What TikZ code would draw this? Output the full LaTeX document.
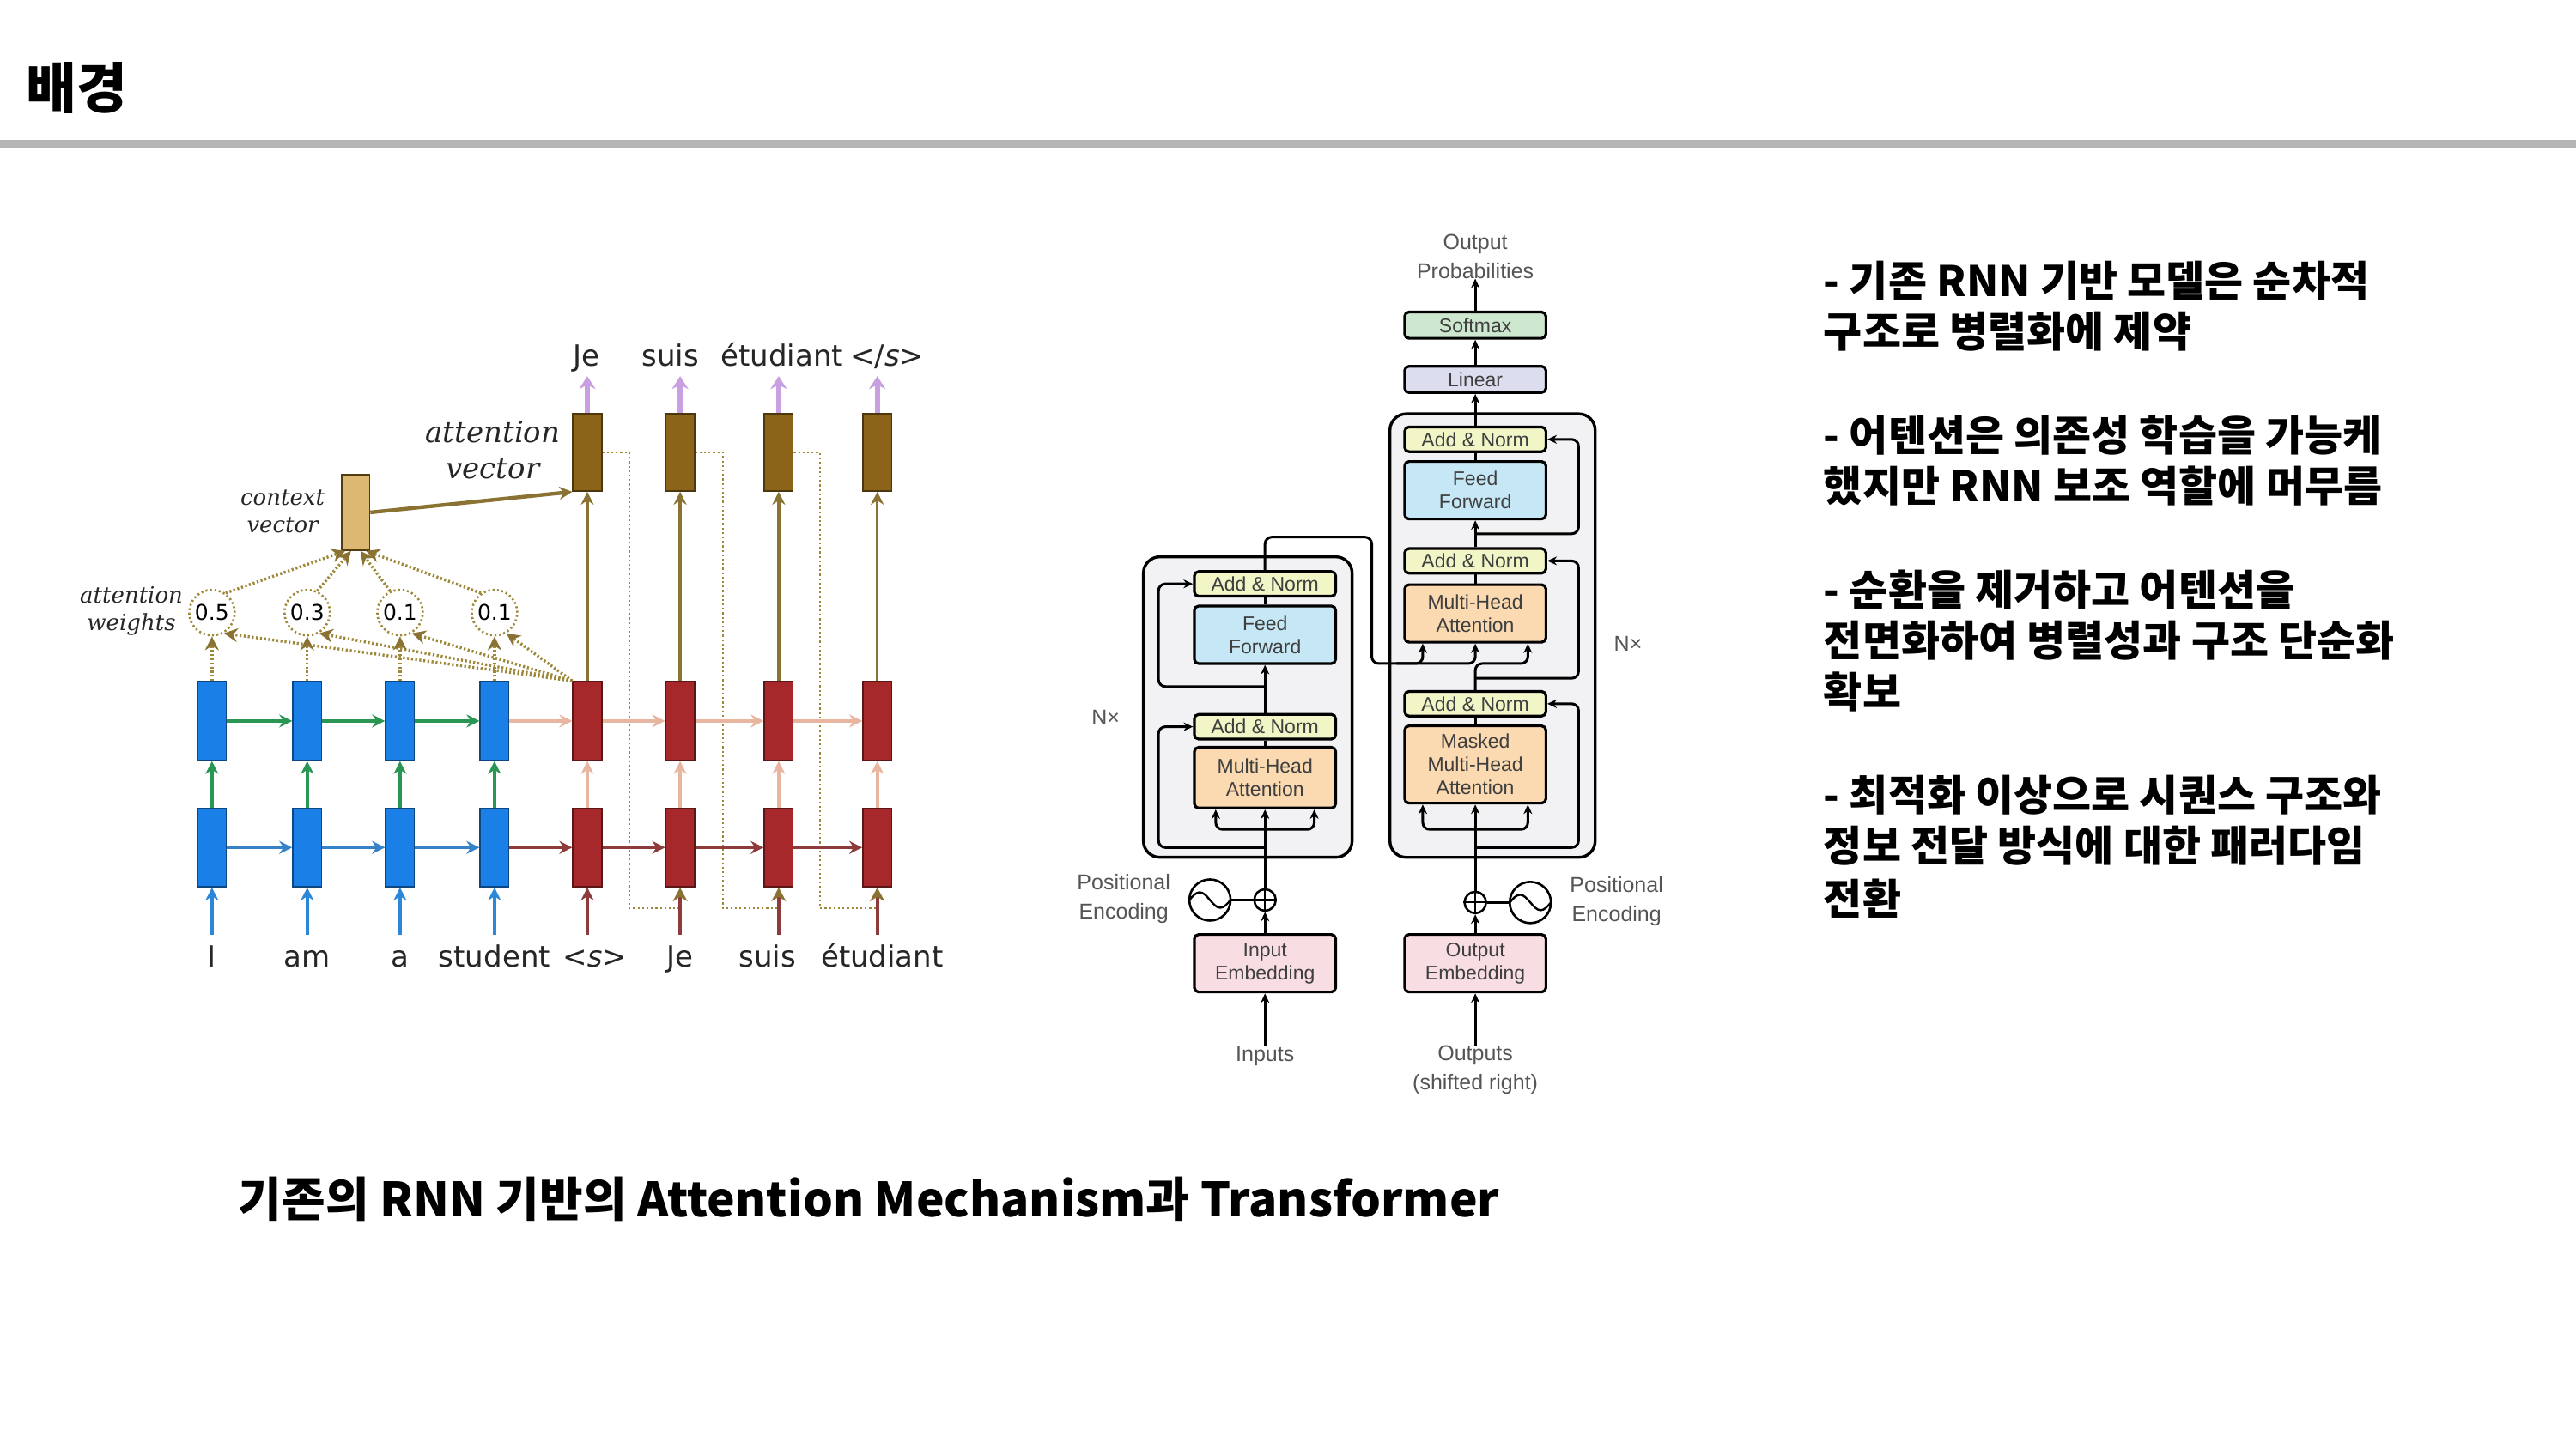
\documentclass[tikz,border=0pt]{standalone}
\usepackage{fontspec}
\usetikzlibrary{arrows.meta}
\setmainfont{Liberation Sans}
\newfontfamily\kr{Noto Sans CJK KR}
\newfontfamily\dvs{DejaVu Sans}
\newfontfamily\dvserif{DejaVu Serif}
\newfontfamily\helv{Liberation Sans}
\definecolor{linegray}{HTML}{B5B5B5}
\definecolor{encblue}{HTML}{1A7FE6}
\definecolor{decred}{HTML}{A6282B}
\definecolor{attbrown}{HTML}{8B6419}
\definecolor{ctxtan}{HTML}{DDB872}
\definecolor{egreen}{HTML}{2A9654}
\definecolor{salmon}{HTML}{E8B6A0}
\definecolor{steel}{HTML}{3582C8}
\definecolor{inblue}{HTML}{2B87D8}
\definecolor{dred}{HTML}{8E3B3B}
\definecolor{olive}{HTML}{8A7332}
\definecolor{purp}{HTML}{C89FE0}
\definecolor{dotol}{HTML}{9C8838}
\definecolor{anfill}{HTML}{F2F6C7}
\definecolor{fffill}{HTML}{C6E7F5}
\definecolor{mhfill}{HTML}{FBD9B1}
\definecolor{embfill}{HTML}{F8DDE2}
\definecolor{smfill}{HTML}{CDE8CF}
\definecolor{linfill}{HTML}{DCDEF0}
\definecolor{outerfill}{HTML}{F2F2F4}
\definecolor{tgray}{HTML}{3F3F3F}
\definecolor{lgray}{HTML}{555555}
\begin{document}
\begin{tikzpicture}[x=1.9133pt,y=-1.9133pt,
  krtext/.style={anchor=west,inner sep=0pt,font=\kr\bfseries\fontsize{49}{52}\selectfont},
  ebox/.style={draw=encblue!55!black,fill=encblue,line width=1.6pt,minimum width=33.5pt,minimum height=91.8pt,inner sep=0pt},
  dbox/.style={draw=decred!55!black,fill=decred,line width=1.6pt,minimum width=33.5pt,minimum height=91.8pt,inner sep=0pt},
  abox/.style={draw=attbrown!55!black,fill=attbrown,line width=1.6pt,minimum width=33.5pt,minimum height=90pt,inner sep=0pt},
  cbox/.style={draw=attbrown!60!black,fill=ctxtan,line width=1.6pt,minimum width=32.5pt,minimum height=88pt,inner sep=0pt},
  wcirc/.style={circle,draw=dotol,line width=2.6pt,dash pattern=on 2.2pt off 3pt,minimum size=53pt,inner sep=0pt,font=\dvs\fontsize{25}{25}\selectfont},
  word/.style={anchor=base,inner sep=0pt,font=\dvs\fontsize{34}{34}\selectfont,text=black!85},
  larr/.style={line width=4pt,-{Stealth[length=15pt,width=15pt]}},
  parr/.style={draw=purp,line width=6pt,-{Stealth[length=15pt,width=19pt]}},
  attl/.style={draw=dotol,line width=3.4pt,dash pattern=on 2.2pt off 2.6pt,-{Stealth[length=16pt,width=16pt,color=olive]}},
  fb/.style={draw=dotol,line width=2.4pt,dash pattern=on 2.2pt off 3pt},
  tbox/.style={draw=black,line width=3.2pt,rounded corners=5pt,minimum width=164.5pt,inner sep=0pt,align=center,font=\helv\fontsize{23}{27}\selectfont,text=tgray},
  an/.style={tbox,fill=anfill,minimum height=28.7pt},
  ffb/.style={tbox,fill=fffill,minimum height=67pt},
  mh/.style={tbox,fill=mhfill,minimum height=67pt},
  emb/.style={tbox,fill=embfill,minimum height=67pt},
  outer/.style={draw=black,line width=3.4pt,rounded corners=19pt,fill=outerfill,inner sep=0pt},
  tarr/.style={line width=3pt,-{Stealth[length=11pt,width=10pt]}},
  tline/.style={line width=3pt},
  tlab/.style={align=center,inner sep=0pt,font=\helv\fontsize{25}{34}\selectfont,text=lgray},
  pe/.style={circle,draw=black,line width=2.6pt,minimum size=48pt,inner sep=0pt},
  plusc/.style={circle,draw=black,line width=2.6pt,minimum size=25pt,inner sep=0pt}
]
\useasboundingbox (0,0) rectangle (1568,882);
\fill[white] (0,0) rectangle (1568,882);

% header
\node[anchor=west,inner sep=0pt,font=\kr\bfseries\fontsize{64}{64}\selectfont] (title) at (16,53.5) {배경};
\fill[linegray] (0,85.2) rectangle (1568,89.9);

% ===== left: RNN attention =====
\foreach \i/\x in {1/129,2/187,3/243.5,4/301}{
  \node[ebox] (et\i) at (\x,439) {};
  \node[ebox] (eb\i) at (\x,516) {};
  \coordinate (ei\i) at (\x,569);
}
\foreach \i/\x in {1/357.5,2/414,3/474,4/534}{
  \node[dbox] (dt\i) at (\x,439) {};
  \node[dbox] (db\i) at (\x,516) {};
  \node[abox] (av\i) at (\x,275.5) {};
  \coordinate (di\i) at (\x,569);
  \coordinate (po\i) at (\x,229);
}
\foreach \i/\x/\v in {1/129/0.5,2/187/0.3,3/243.5/0.1,4/301/0.1}{
  \node[wcirc] (w\i) at (\x,373) {\v};
}
\node[cbox] (ctx) at (216.5,312) {};

% feedback dotted lines
\coordinate (fe2) at (414,553);
\coordinate (fe3) at (474,553);
\coordinate (fe4) at (534,553);
\draw[fb] (av1.east) -| (383,553) -- (fe2);
\draw[fb] (av2.east) -| (440,553) -- (fe3);
\draw[fb] (av3.east) -| (499,553) -- (fe4);

% vertical arrows
\foreach \i in {1,...,4}{
  \draw[larr,inblue] (ei\i) -- (eb\i.south);
  \draw[larr,egreen] (eb\i.north) -- (et\i.south);
  \draw[larr,salmon] (db\i.north) -- (dt\i.south);
  \draw[larr,olive,line width=3.6pt] (dt\i.north) -- (av\i.south);
  \draw[parr] (av\i.north) -- (po\i);
}
\draw[larr,dred] (di1) -- (db1.south);
\foreach \i in {2,3,4}{
  \draw[dred,line width=4pt,-{Stealth[length=16pt,width=17pt,color=olive]}] (di\i) -- (db\i.south);
}
% horizontal arrows
\draw[larr,egreen] (et1.east) -- (et2.west);
\draw[larr,egreen] (et2.east) -- (et3.west);
\draw[larr,egreen] (et3.east) -- (et4.west);
\draw[larr,salmon] (et4.east) -- (dt1.west);
\draw[larr,salmon] (dt1.east) -- (dt2.west);
\draw[larr,salmon] (dt2.east) -- (dt3.west);
\draw[larr,salmon] (dt3.east) -- (dt4.west);
\draw[larr,steel] (eb1.east) -- (eb2.west);
\draw[larr,steel] (eb2.east) -- (eb3.west);
\draw[larr,steel] (eb3.east) -- (eb4.west);
\draw[larr,dred] (eb4.east) -- (db1.west);
\draw[larr,dred] (db1.east) -- (db2.west);
\draw[larr,dred] (db2.east) -- (db3.west);
\draw[larr,dred] (db3.east) -- (db4.west);

% attention lines
\foreach \i in {1,...,4}{
  \draw[attl] (et\i.north) -- (w\i.south);
  \draw[attl] (dt1.north west) -- (w\i.-60);
}
\draw[attl] (w1.55) -- (ctx.-105);
\draw[attl] (w2.65) -- (ctx.-97);
\draw[attl] (w3.115) -- (ctx.-83);
\draw[attl] (w4.125) -- (ctx.-75);
\draw[olive,line width=4.4pt,-{Stealth[length=15pt,width=15pt]}] (ctx.east) -- (av1.south west);

% labels
\node[align=center,inner sep=0pt,font=\dvserif\itshape\fontsize{34}{42}\selectfont,text=black!85] (avlab) at (300,274) {attention\\vector};
\node[align=center,inner sep=0pt,font=\dvserif\itshape\fontsize{26}{32}\selectfont,text=black!85] (cvlab) at (172,311.5) {context\\vector};
\node[align=center,inner sep=0pt,font=\dvserif\itshape\fontsize{26}{32}\selectfont,text=black!85] (awlab) at (80,372) {attention\\weights};
\node[word] (o1) at (357,223) {Je};
\node[word] (o2) at (408,223) {suis};
\node[word] (o3) at (476,223) {étudiant};
\node[word] (o4) at (540,223) {</{\itshape s}>};
\node[word] (i1) at (129,589) {I};
\node[word] (i2) at (187,589) {am};
\node[word] (i3) at (243.5,589) {a};
\node[word] (i4) at (301,589) {student};
\node[word] (i5) at (362,589) {<{\itshape s}>};
\node[word] (i6) at (414,589) {Je};
\node[word] (i7) at (467,589) {suis};
\node[word] (i8) at (537,589) {étudiant};

% ===== middle: Transformer =====
\node[outer,minimum width=243pt,minimum height=350pt] (encOuter) at (759.5,430.5) {};
\node[outer,minimum width=239pt,minimum height=516.6pt] (decOuter) at (908.5,387) {};

\node[an] (encAN2) at (770,355.5) {Add \& Norm};
\node[ffb] (encFF) at (770,386.5) {Feed\\Forward};
\node[an] (encAN1) at (770,442.5) {Add \& Norm};
\node[mh,minimum height=70.8pt] (encMHA) at (770,473.5) {Multi-Head\\Attention};
\node[emb] (inEmb) at (770,586.5) {Input\\Embedding};

\node[tbox,fill=smfill,minimum height=30.6pt] (softmax) at (898,198) {Softmax};
\node[tbox,fill=linfill,minimum height=30.6pt] (linear) at (898,231) {Linear};
\node[an] (decAN3) at (898,267.5) {Add \& Norm};
\node[ffb] (decFF) at (898,298.5) {Feed\\Forward};
\node[an] (decAN2) at (898,341.5) {Add \& Norm};
\node[mh] (decMHA) at (898,373.5) {Multi-Head\\Attention};
\node[an] (decAN1) at (898,428.5) {Add \& Norm};
\node[mh,minimum height=90pt] (decMMHA) at (898,465.5) {Masked\\Multi-Head\\Attention};
\node[emb] (outEmb) at (898,586.5) {Output\\Embedding};

\node[plusc] (encplus) at (770,548) {};
\node[pe] (encpe) at (736.5,548) {};
\node[plusc] (decplus) at (898,549.5) {};
\node[pe] (decpe) at (931.5,549.5) {};
\foreach \p in {encplus,decplus}{
  \draw[line width=2.2pt] (\p.north) -- (\p.south) (\p.west) -- (\p.east);
}
\foreach \p in {encpe,decpe}{
  \draw[line width=2.4pt] ([xshift=-24pt]\p.center) sin ++(12pt,9pt) cos ++(12pt,-9pt) sin ++(12pt,-9pt) cos ++(12pt,9pt);
}

\node[tlab] (outprob) at (898,156) {Output\\Probabilities};
\node[tlab] (inputs) at (770,643) {Inputs};
\node[tlab] (outputs) at (898,651.5) {Outputs\\(shifted right)};
\node[tlab] (pel) at (684,547) {Positional\\Encoding};
\node[tlab] (per) at (984,549) {Positional\\Encoding};
\node[tlab] (nxl) at (673,437) {N×};
\node[tlab] (nxr) at (991,392) {N×};

% encoder connections
\draw[tarr] (inputs.north) -- (inEmb.south);
\draw[tarr] (inEmb.north) -- (encplus.south);
\draw[tline] (encplus.west) -- (encpe.east);
\draw[tarr] (encplus.north) -- (encMHA.south);
\draw[tarr,rounded corners=8pt] (770,505) -| ([xshift=-57.4pt]encMHA.south);
\draw[tarr,rounded corners=8pt] (770,505) -| ([xshift=57.4pt]encMHA.south);
\draw[tarr,rounded corners=8pt] (770,516) -| ([xshift=-40.2pt]encAN1.west) -- (encAN1.west);
\draw[tline] (encMHA.north) -- (encAN1.south);
\draw[tarr] (encAN1.north) -- (encFF.south);
\draw[tarr,rounded corners=8pt] (770,418) -| ([xshift=-40.2pt]encAN2.west) -- (encAN2.west);
\draw[tline] (encFF.north) -- (encAN2.south);
\draw[tarr,rounded corners=8pt] (encAN2.north) -- (770,327) -- (835,327) -- (835,404) -| ([xshift=-61.2pt]decMHA.south);
\draw[tarr,rounded corners=8pt] (850,404) -| (decMHA.south);

% decoder connections
\draw[tarr] (outputs.north) -- (outEmb.south);
\draw[tarr] (outEmb.north) -- (decplus.south);
\draw[tline] (decplus.east) -- (decpe.west);
\draw[tarr] (decplus.north) -- (decMMHA.south);
\draw[tarr,rounded corners=8pt] (898,505) -| ([xshift=-61.2pt]decMMHA.south);
\draw[tarr,rounded corners=8pt] (898,505) -| ([xshift=61.2pt]decMMHA.south);
\draw[tarr,rounded corners=8pt] (898,516) -| ([xshift=36.4pt]decAN1.east) -- (decAN1.east);
\draw[tline] (decMMHA.north) -- (decAN1.south);
\draw[tarr,rounded corners=8pt] (decAN1.north) -- (898,404) -| ([xshift=61.2pt]decMHA.south);
\draw[tarr,rounded corners=8pt] (898,413) -| ([xshift=36.4pt]decAN2.east) -- (decAN2.east);
\draw[tline] (decMHA.north) -- (decAN2.south);
\draw[tarr] (decAN2.north) -- (decFF.south);
\draw[tarr,rounded corners=8pt] (898,325) -| ([xshift=36.4pt]decAN3.east) -- (decAN3.east);
\draw[tline] (decFF.north) -- (decAN3.south);
\draw[tarr] (decAN3.north) -- (linear.south);
\draw[tarr] (linear.north) -- (softmax.south);
\draw[tarr] (softmax.north) -- (outprob.south);

% ===== right text =====
\node[krtext] (r1) at (1110,171) {- 기존 RNN 기반 모델은 순차적};
\node[krtext] (r2) at (1110,202) {구조로 병렬화에 제약};
\node[krtext] (r3) at (1110,265) {- 어텐션은 의존성 학습을 가능케};
\node[krtext] (r4) at (1110,296) {했지만 RNN 보조 역할에 머무름};
\node[krtext] (r5) at (1110,359) {- 순환을 제거하고 어텐션을};
\node[krtext] (r6) at (1110,390) {전면화하여 병렬성과 구조 단순화};
\node[krtext] (r7) at (1110,421) {확보};
\node[krtext] (r8) at (1110,484) {- 최적화 이상으로 시퀀스 구조와};
\node[krtext] (r9) at (1110,515) {정보 전달 방식에 대한 패러다임};
\node[krtext] (r10) at (1110,547) {전환};

% caption
\node[inner sep=0pt,font=\kr\bfseries\fontsize{55}{55}\selectfont] (cap) at (529,730) {기존의 RNN 기반의 Attention Mechanism과 Transformer};
\end{tikzpicture}
\end{document}
